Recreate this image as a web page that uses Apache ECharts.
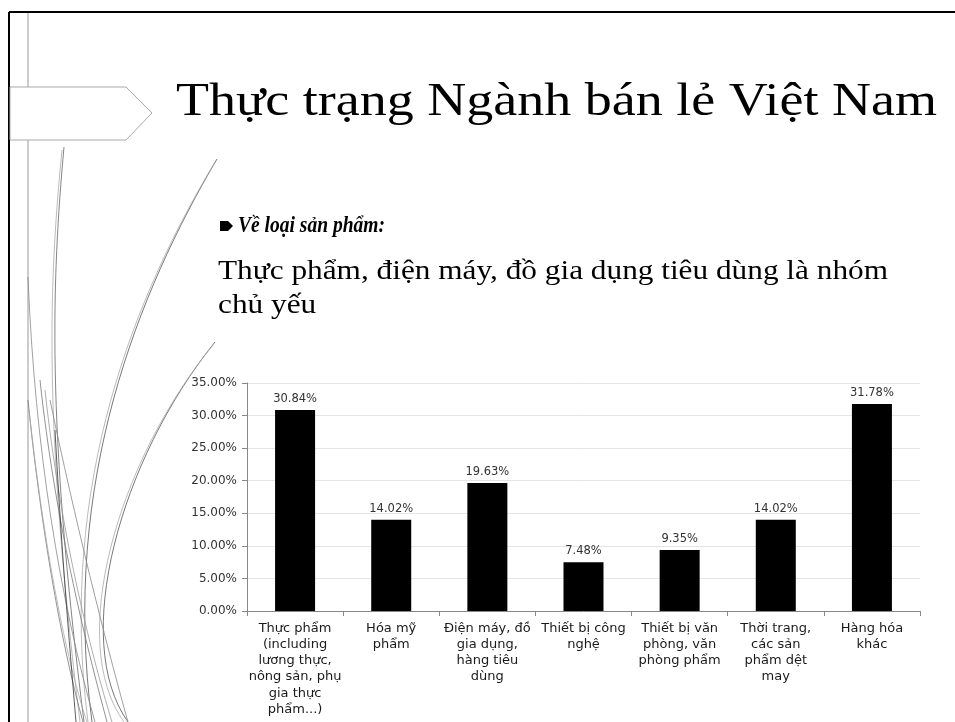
<!DOCTYPE html>
<html>
<head>
<meta charset="utf-8">
<script src="https://cdn.jsdelivr.net/npm/echarts@6/dist/echarts.min.js"></script>
<style>
html,body{margin:0;padding:0;background:#fff;}
#chart{width:955px;height:722px;}
</style>
</head>
<body>
<div id="chart"></div>
<script>
const categories = [
  'Thực phẩm\n(including\nlương thực,\nnông sản, phụ\ngia thực\nphẩm...)',
  'Hóa mỹ\nphẩm',
  'Điện máy, đồ\ngia dụng,\nhàng tiêu\ndùng',
  'Thiết bị công\nnghệ',
  'Thiết bị văn\nphòng, văn\nphòng phẩm',
  'Thời trang,\ncác sản\nphẩm dệt\nmay',
  'Hàng hóa\nkhác'
];
const shares = [30.84, 14.02, 19.63, 7.48, 9.35, 14.02, 31.78];
const yTicks = [0, 5, 10, 15, 20, 25, 30, 35];
const titleText = 'Thực trạng Ngành bán lẻ Việt Nam';
const bulletText = 'Về loại sản phẩm:';
const bodyLines = ['Thực phẩm, điện máy, đồ gia dụng tiêu dùng là nhóm', 'chủ yếu'];

const ctx = document.createElement('canvas').getContext('2d');
function fitScale(text, font, target) {
  ctx.font = font;
  return target / ctx.measureText(text).width;
}

const titleFont = "47px 'Liberation Serif'";
const bulletFont = "italic bold 24px 'Liberation Serif'";
const bodyFont = "28px 'Liberation Serif'";

// decorative curves of the slide template
const curves = [
  [[64,147],[52,280],[46,420],[84,722],'#666'],
  [[62,150],[49,282],[43,420],[80,722],'#aaa'],
  [[217,159],[140,290],[60,480],[92,722],'#555'],
  [[215,162],[137,292],[57,482],[88,722],'#aaa'],
  [[215,342],[120,460],[70,640],[128,722],'#555'],
  [[213,345],[117,462],[66,642],[124,722],'#aaa'],
  [[28,277],[35,450],[60,600],[95,722],'#888'],
  [[28,400],[40,520],[60,640],[83,722],'#777'],
  [[29,410],[42,530],[63,650],[87,722],'#aaa'],
  [[40,380],[55,520],[85,640],[107,722],'#777'],
  [[45,390],[60,530],[90,650],[112,722],'#999'],
  [[50,400],[75,520],[105,640],[128,722],'#888'],
  [[55,430],[62,560],[70,650],[76,722],'#333']
];
const curveGraphics = curves.map(c => ({
  type: 'bezierCurve',
  silent: true,
  shape: {x1:c[0][0], y1:c[0][1], cpx1:c[1][0], cpy1:c[1][1], cpx2:c[2][0], cpy2:c[2][1], x2:c[3][0], y2:c[3][1]},
  style: {stroke: c[4], lineWidth: 0.8, fill: null}
}));

const chart = echarts.init(document.getElementById('chart'), null, {renderer: 'canvas'});
const option = {
  animation: false,
  backgroundColor: '#fff',
  graphic: [
    // slide border
    {type:'line', silent:true, shape:{x1:9,y1:12,x2:955,y2:12}, style:{stroke:'#000', lineWidth:2}},
    {type:'line', silent:true, shape:{x1:9,y1:12,x2:9,y2:722}, style:{stroke:'#000', lineWidth:2}},
    {type:'line', silent:true, shape:{x1:28,y1:13,x2:28,y2:722}, style:{stroke:'#999', lineWidth:1}},
    ...curveGraphics,
    {type:'polygon', silent:true, shape:{points:[[10,87],[126,87],[152,113],[126,140],[10,140]]}, style:{fill:'#fff', stroke:'#aaa', lineWidth:1}},
    {type:'text', silent:true, x:176, y:103, scaleX: fitScale(titleText, titleFont, 761),
      style:{text:titleText, font:titleFont, fill:'#000', align:'left', verticalAlign:'middle'}},
    {type:'polygon', silent:true, shape:{points:[[220,221],[228,221],[233,226],[228,231],[220,231]]}, style:{fill:'#000'}},
    {type:'text', silent:true, x:238, y:226, scaleX: fitScale(bulletText, bulletFont, 147),
      style:{text:bulletText, font:bulletFont, fill:'#000', align:'left', verticalAlign:'middle'}},
    {type:'text', silent:true, x:218, y:272, scaleX: fitScale(bodyLines[0], bodyFont, 670),
      style:{text:bodyLines[0], font:bodyFont, fill:'#000', align:'left', verticalAlign:'middle'}},
    {type:'text', silent:true, x:218, y:306, scaleX: fitScale(bodyLines[0], bodyFont, 670),
      style:{text:bodyLines[1], font:bodyFont, fill:'#000', align:'left', verticalAlign:'middle'}}
  ],
  grid: {left: 247, right: 35, top: 383, bottom: 111, containLabel: false},
  xAxis: {
    type: 'category',
    data: categories,
    axisLine: {show: true, lineStyle: {color: '#888', width: 1}},
    axisTick: {show: true, length: 5, lineStyle: {color: '#888'}, alignWithLabel: false},
    axisLabel: {interval: 0, fontFamily: 'DejaVu Sans', fontSize: 13, lineHeight: 16.3, color: '#1a1a1a', margin: 9}
  },
  yAxis: {
    type: 'value',
    min: yTicks[0],
    max: yTicks[yTicks.length - 1],
    interval: 5,
    axisLine: {show: true, lineStyle: {color: '#888', width: 1}},
    axisTick: {show: true, length: 5, lineStyle: {color: '#888'}},
    axisLabel: {fontFamily: 'DejaVu Sans', fontSize: 12, color: '#333', margin: 10,
      formatter: v => v.toFixed(2) + '%'},
    splitLine: {show: true, lineStyle: {color: '#e4e4e4', width: 1}}
  },
  series: [{
    type: 'bar',
    data: shares,
    barWidth: 40,
    itemStyle: {color: '#000'},
    label: {show: true, position: 'top', distance: 5, fontFamily: 'DejaVu Sans', fontSize: 11.5, color: '#333',
      formatter: p => p.value.toFixed(2) + '%'}
  }]
};
chart.setOption(option);
</script>
</body>
</html>
